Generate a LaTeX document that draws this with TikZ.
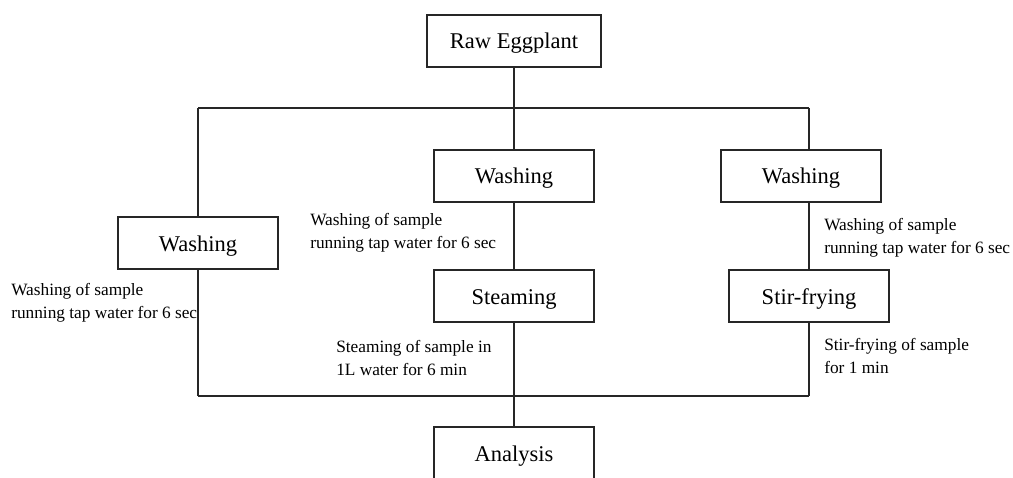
\documentclass[tikz,border=0pt]{standalone}
\usepackage{fontspec}
\setmainfont{Liberation Serif}
\usetikzlibrary{calc,positioning}
\tikzset{lines/.style={draw=black!85,line width=0.9pt}}

\begin{document}
\begin{tikzpicture}[x=0.025cm,y=-0.025cm]

\tikzset{boxnode/.style={lines,fill=white,font=\fontsize{16}{19}\selectfont,minimum width=4cm,minimum height=1.3cm,text height=0.52cm,text depth=0.12cm,inner sep=0pt,shape=rectangle},
notenode/.style={font=\fontsize{12.3}{16}\selectfont,align=left,anchor=west,inner sep=0pt}}

\useasboundingbox (0,0) rectangle (1013,478);

% Boxes
\node[boxnode,minimum width=4.35cm] (raw) at (514,41) {Raw Eggplant};
\node[boxnode] (wleft) at (198,243) {Washing};
\node[boxnode] (wmid) at (514,176) {Washing};
\node[boxnode] (wright) at (801,176) {Washing};
\node[boxnode] (steam) at (514,296) {Steaming};
\node[boxnode] (stir) at (809,296) {Stir-frying};
\node[boxnode] (ana) at (514,453) {Analysis};

% Junctions
\coordinate (topL) at (198,108);
\coordinate (topR) at (809,108);
\coordinate (botL) at (198,396);
\coordinate (botR) at (809,396);

% Connectors
\draw[lines] (raw) -- (wmid);
\draw[lines] (topL) -- (topR);
\draw[lines] (topL) -- (wleft);
\draw[lines] (topR) -- (topR |- wright.north);
\draw[lines] (wright.south -| stir) -- (stir);
\draw[lines] (wmid) -- (steam);
\draw[lines] (steam) -- (ana);
\draw[lines] (wleft) -- (botL);
\draw[lines] (stir) -- (botR);
\draw[lines] (botL) -- (botR);

% Notes
\node[notenode] (nleft) at (11,303) {Washing of sample\\running tap water for 6 sec};
\node[notenode] (nmid) at (310,233) {Washing of sample\\running tap water for 6 sec};
\node[notenode] (nright) at (824,238) {Washing of sample\\running tap water for 6 sec};
\node[notenode] (nsteam) at (336,358) {Steaming of sample in\\1L water for 6 min};
\node[notenode] (nstir) at (824,356) {Stir-frying of sample\\for 1 min};

\end{tikzpicture}
\end{document}
